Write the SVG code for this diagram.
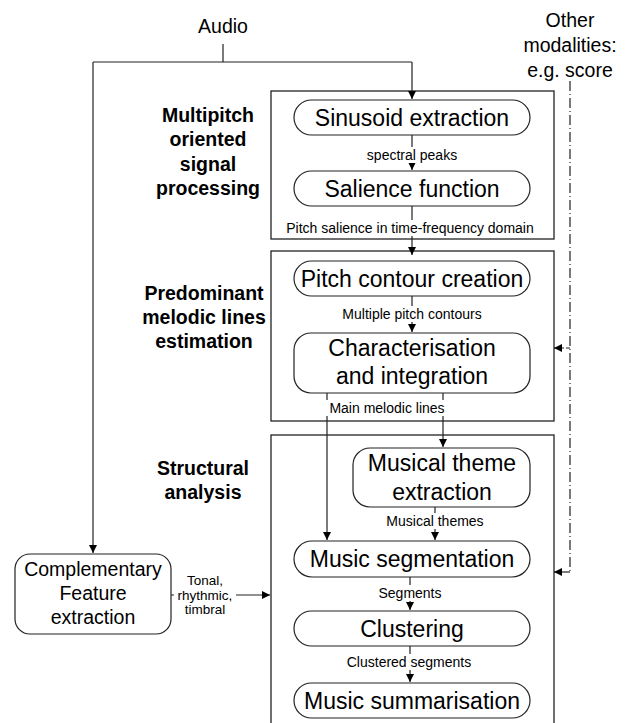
<svg xmlns="http://www.w3.org/2000/svg" width="629" height="723" viewBox="0 0 629 723">
<defs>
<marker id="ah" viewBox="0 0 10 10" refX="10" refY="5" markerWidth="8" markerHeight="8" markerUnits="userSpaceOnUse" orient="auto">
<path d="M0,0 L10,5 L0,10 Z" fill="#000"/>
</marker>
</defs>
<style>
.frame{fill:none;stroke:#222;stroke-width:1.3}
.node{fill:#fff;stroke:#222;stroke-width:1.2}
.ln{fill:none;stroke:#222;stroke-width:1.2}
.ar{fill:none;stroke:#222;stroke-width:1.2;marker-end:url(#ah)}
.dash{fill:none;stroke:#222;stroke-width:1.2;stroke-dasharray:10,3,1,3}
.t{font-family:"Liberation Sans",Arial,sans-serif;fill:#000;text-anchor:middle}
.nt{font-size:23px}
.sm{font-size:14px}
.sec{font-size:19.5px;font-weight:bold}
.big{font-size:19.5px}
.bg{fill:#fff}
</style>
<rect width="629" height="723" fill="#fff"/>

<g id="frames">
<rect class="frame" x="271" y="91" width="283" height="148"/>
<rect class="frame" x="271" y="251" width="283" height="170"/>
<rect class="frame" x="271" y="435" width="283" height="300"/>
</g>

<g id="section-labels">
<text class="t sec"><tspan x="208" y="122">Multipitch</tspan><tspan x="208" y="146">oriented</tspan><tspan x="208" y="171">signal</tspan><tspan x="208" y="195">processing</tspan></text>
<text class="t sec"><tspan x="204" y="300">Predominant</tspan><tspan x="204" y="324">melodic lines</tspan><tspan x="204" y="348">estimation</tspan></text>
<text class="t sec"><tspan x="203" y="475">Structural</tspan><tspan x="203" y="499">analysis</tspan></text>
</g>

<g id="connectors">
<line class="ln" x1="223" y1="44" x2="223" y2="62"/>
<polyline class="ln" points="93,62 412,62"/>
<line class="ar" x1="93" y1="62" x2="93" y2="553"/>
<line class="ar" x1="412" y1="62" x2="412" y2="99"/>
<line class="ar" x1="412" y1="135" x2="412" y2="170"/>
<line class="ar" x1="412" y1="206" x2="412" y2="255"/>
<line class="ar" x1="412" y1="296" x2="412" y2="332"/>
<line class="ar" x1="327" y1="393" x2="327" y2="540"/>
<line class="ar" x1="443" y1="393" x2="443" y2="447"/>
<line class="ar" x1="435" y1="507" x2="435" y2="540"/>
<line class="ar" x1="410" y1="577" x2="410" y2="610"/>
<line class="ar" x1="410" y1="646" x2="410" y2="682"/>
<line class="ar" x1="171" y1="595" x2="270" y2="595"/>
<line class="dash" x1="570" y1="81" x2="570" y2="572"/>
<line class="ar" x1="570" y1="348" x2="554" y2="348" stroke-dasharray="4,2"/>
<line class="ar" x1="570" y1="572" x2="554" y2="572"/>
</g>

<g id="connector-labels">
<rect class="bg" x="366" y="147" width="94" height="16"/>
<text class="t sm" x="412" y="160">spectral peaks</text>
<rect class="bg" x="280" y="220" width="260" height="16"/>
<text class="t sm" x="410" y="233">Pitch salience in time-frequency domain</text>
<rect class="bg" x="336" y="306" width="152" height="16"/>
<text class="t sm" x="412" y="319">Multiple pitch contours</text>
<rect class="bg" x="325" y="400" width="125" height="16"/>
<text class="t sm" x="387" y="413">Main melodic lines</text>
<rect class="bg" x="381" y="513" width="108" height="16"/>
<text class="t sm" x="435" y="526">Musical themes</text>
<rect class="bg" x="374" y="585" width="71" height="16"/>
<text class="t sm" x="410" y="598">Segments</text>
<rect class="bg" x="341" y="654" width="136" height="16"/>
<text class="t sm" x="409" y="667">Clustered segments</text>
<rect class="bg" x="174" y="572" width="62" height="46"/>
<text class="t" style="font-size:13.5px"><tspan x="205" y="585">Tonal,</tspan><tspan x="205" y="600">rhythmic,</tspan><tspan x="205" y="614">timbral</tspan></text>
</g>

<g id="audio">
<text class="t big" x="223" y="33">Audio</text>
</g>
<g id="other-modalities">
<text class="t big"><tspan x="570" y="27">Other</tspan><tspan x="570" y="52">modalities:</tspan><tspan x="570" y="77">e.g. score</tspan></text>
</g>

<g id="sinusoid">
<rect class="node" x="294" y="100" width="236" height="35" rx="17.5"/>
<text class="t nt" x="412" y="126">Sinusoid extraction</text>
</g>
<g id="salience">
<rect class="node" x="294" y="171" width="236" height="35" rx="17.5"/>
<text class="t nt" x="412" y="197">Salience function</text>
</g>
<g id="pitch-contour">
<rect class="node" x="294" y="261" width="236" height="35" rx="17.5"/>
<text class="t nt" x="412" y="287">Pitch contour creation</text>
</g>
<g id="characterisation">
<rect class="node" x="294" y="333" width="236" height="60" rx="17"/>
<text class="t nt"><tspan x="412" y="356">Characterisation</tspan><tspan x="412" y="384">and integration</tspan></text>
</g>
<g id="theme">
<rect class="node" x="353" y="448" width="177" height="59" rx="17"/>
<text class="t nt"><tspan x="442" y="471">Musical theme</tspan><tspan x="442" y="500">extraction</tspan></text>
</g>
<g id="segmentation">
<rect class="node" x="294" y="541" width="236" height="36" rx="18"/>
<text class="t nt" x="412" y="567">Music segmentation</text>
</g>
<g id="clustering">
<rect class="node" x="294" y="611" width="236" height="35" rx="17.5"/>
<text class="t nt" x="412" y="637">Clustering</text>
</g>
<g id="summarisation">
<rect class="node" x="294" y="683" width="236" height="35" rx="17.5"/>
<text class="t nt" x="412" y="709">Music summarisation</text>
</g>
<g id="complementary">
<rect class="node" x="15" y="554" width="156" height="80" rx="15"/>
<text class="t big"><tspan x="93" y="576">Complementary</tspan><tspan x="93" y="600">Feature</tspan><tspan x="93" y="624">extraction</tspan></text>
</g>
</svg>
